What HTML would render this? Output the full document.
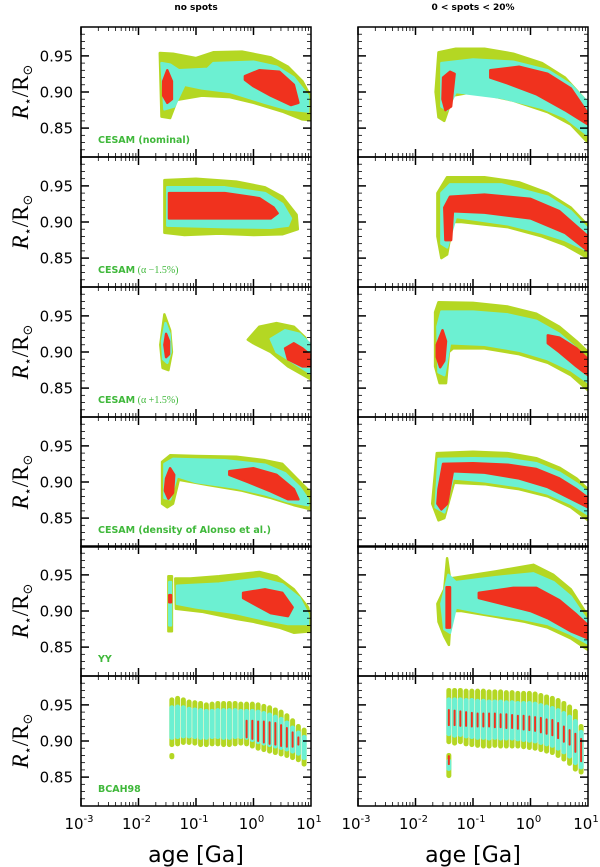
<!DOCTYPE html>
<html><head><meta charset="utf-8"><style>
html,body{margin:0;padding:0;background:#fff}
svg{display:block}
</style></head><body>
<svg id="fig" width="600" height="867" viewBox="0 0 600 867" xmlns="http://www.w3.org/2000/svg" style="font-family:'DejaVu Sans','Liberation Sans',sans-serif">
<text x="196" y="10" font-size="9" font-weight="bold" text-anchor="middle">no spots</text>
<text x="473" y="10" font-size="9" font-weight="bold" text-anchor="middle">0 &lt; spots &lt; 20%</text>
<g id="marks"></g>
<g id="axes"></g>
</svg>
<script>
// ---- data ----
const rowLabels = ["CESAM (nominal)","CESAM","CESAM","CESAM (density of Alonso et al.)","YY","BCAH98"];
const rowLabelNotes = ["","(α −1.5%)","(α +1.5%)","","",""];
const xTickLabels = ["-3","-2","-1","0","1"];
const yTickValues = [0.85,0.90,0.95];
const yTickLabels = ["0.85","0.90","0.95"];

const green1L=[[-1.63,0.954],[-1.4,0.953],[-1.0,0.947],[-0.7,0.955],[-0.2,0.956],[0.3,0.948],[0.6,0.935],[0.85,0.915],[1.0,0.893],[1.0,0.861],[0.85,0.862],[0.5,0.873],[0.0,0.885],[-0.41,0.893],[-0.9,0.895],[-1.33,0.889],[-1.45,0.864],[-1.6,0.866]];
const cyan1L=[[-1.6,0.94],[-1.45,0.938],[-1.3,0.93],[-0.8,0.932],[-0.7,0.94],[0.0,0.942],[0.4,0.935],[0.7,0.92],[0.95,0.895],[0.95,0.873],[0.6,0.876],[0.2,0.885],[-0.4,0.9],[-0.9,0.905],[-1.2,0.91],[-1.38,0.88],[-1.55,0.876]];
const redA1L=[[-1.57,0.915],[-1.5,0.93],[-1.42,0.915],[-1.42,0.89],[-1.5,0.885],[-1.57,0.895]];
const redB1L=[[-0.15,0.922],[0.1,0.93],[0.45,0.928],[0.7,0.91],[0.78,0.885],[0.65,0.882],[0.3,0.895],[0.0,0.908],[-0.15,0.917]];
const green1R=[[-1.65,0.9],[-1.6,0.955],[-1.3,0.96],[-0.8,0.96],[-0.3,0.953],[0.2,0.94],[0.6,0.92],[1.0,0.885],[1.0,0.83],[0.7,0.855],[0.3,0.872],[-0.3,0.888],[-1.0,0.9],[-1.35,0.895],[-1.5,0.86],[-1.6,0.865]];
const cyan1R=[[-1.55,0.94],[-1.0,0.945],[-0.3,0.942],[0.3,0.93],[0.7,0.91],[1.0,0.885],[1.0,0.84],[0.6,0.865],[0.2,0.878],[-0.5,0.892],[-1.3,0.9],[-1.45,0.875],[-1.55,0.88]];
const redA1R=[[-1.52,0.92],[-1.4,0.928],[-1.32,0.925],[-1.38,0.88],[-1.48,0.875],[-1.53,0.89]];
const redB1R=[[-0.7,0.93],[-0.2,0.935],[0.3,0.925],[0.7,0.905],[1.0,0.87],[1.0,0.855],[0.6,0.875],[0.1,0.897],[-0.4,0.912],[-0.7,0.92]];
const green2L=[[-1.55,0.958],[-1.0,0.96],[-0.3,0.956],[0.2,0.948],[0.5,0.935],[0.75,0.91],[0.77,0.89],[0.5,0.883],[0.0,0.882],[-0.6,0.884],[-1.2,0.882],[-1.55,0.885]];
const cyan2L=[[-1.5,0.948],[-0.5,0.948],[0.2,0.94],[0.5,0.925],[0.65,0.905],[0.6,0.895],[0.3,0.892],[-0.5,0.893],[-1.5,0.895]];
const red2L=[[-1.47,0.94],[-0.5,0.94],[0.1,0.933],[0.35,0.92],[0.42,0.912],[0.3,0.905],[-0.5,0.905],[-1.47,0.905]];
const green2R=[[-1.62,0.94],[-1.45,0.962],[-0.8,0.962],[-0.2,0.955],[0.3,0.94],[0.7,0.92],[1.0,0.895],[1.0,0.85],[0.6,0.868],[0.2,0.88],[-0.4,0.893],[-1.2,0.9],[-1.35,0.9],[-1.45,0.855],[-1.55,0.85],[-1.62,0.88]];
const cyan2R=[[-1.55,0.94],[-1.4,0.952],[-0.5,0.952],[0.3,0.935],[0.7,0.915],[1.0,0.89],[1.0,0.86],[0.6,0.875],[0.2,0.885],[-0.4,0.897],[-1.3,0.907],[-1.45,0.865],[-1.55,0.87]];
const red2R=[[-1.5,0.92],[-1.4,0.935],[-0.8,0.938],[0,0.932],[0.5,0.915],[1.0,0.88],[1.0,0.86],[0.6,0.885],[0.0,0.905],[-0.8,0.913],[-1.35,0.915],[-1.38,0.875],[-1.48,0.875]];
const greenA3L=[[-1.55,0.952],[-1.45,0.93],[-1.42,0.9],[-1.48,0.875],[-1.58,0.878],[-1.62,0.91]];
const cyanA3L=[[-1.53,0.94],[-1.46,0.925],[-1.44,0.9],[-1.5,0.885],[-1.57,0.89],[-1.59,0.915]];
const redA3L=[[-1.52,0.925],[-1.47,0.915],[-1.47,0.897],[-1.52,0.893],[-1.55,0.91]];
const greenB3L=[[-0.1,0.917],[0.1,0.935],[0.4,0.94],[0.7,0.935],[0.9,0.92],[1.0,0.9],[1.0,0.862],[0.6,0.88],[0.3,0.9],[0,0.912]];
const cyanB3L=[[0.3,0.918],[0.55,0.93],[0.8,0.925],[1.0,0.91],[1.0,0.87],[0.7,0.885],[0.4,0.9]];
const redB3L=[[0.55,0.905],[0.7,0.912],[0.85,0.905],[1.0,0.895],[1.0,0.88],[0.85,0.88],[0.6,0.89]];
const green3R=[[-1.66,0.955],[-1.6,0.969],[-1.0,0.968],[-0.4,0.963],[0.1,0.953],[0.5,0.935],[0.8,0.915],[1.0,0.9],[1.0,0.847],[0.7,0.868],[0.3,0.885],[-0.2,0.897],[-0.8,0.905],[-1.35,0.905],[-1.42,0.9],[-1.47,0.857],[-1.58,0.857],[-1.66,0.88]];
const cyan3R=[[-1.62,0.935],[-1.55,0.956],[-1.0,0.956],[-0.4,0.952],[0.1,0.943],[0.5,0.925],[0.8,0.905],[1.0,0.89],[1.0,0.858],[0.7,0.875],[0.3,0.89],[-0.2,0.902],[-0.8,0.91],[-1.4,0.912],[-1.5,0.868],[-1.6,0.872]];
const redA3R=[[-1.63,0.91],[-1.53,0.93],[-1.47,0.915],[-1.5,0.888],[-1.57,0.879],[-1.63,0.893]];
const redB3R=[[0.3,0.923],[0.5,0.92],[0.8,0.905],[1.0,0.89],[1.0,0.868],[0.8,0.88],[0.5,0.9],[0.3,0.912]];
const green4L=[[-1.59,0.928],[-1.45,0.937],[-1.0,0.936],[-0.3,0.935],[0.2,0.93],[0.5,0.925],[0.75,0.905],[1.0,0.885],[1.0,0.862],[0.7,0.868],[0.3,0.878],[-0.2,0.888],[-0.8,0.896],[-1.3,0.903],[-1.4,0.87],[-1.5,0.865],[-1.59,0.87]];
const cyan4L=[[-1.55,0.925],[-1.4,0.932],[-0.5,0.93],[0.2,0.924],[0.55,0.912],[0.8,0.893],[0.95,0.876],[0.95,0.868],[0.6,0.873],[0.2,0.883],[-0.3,0.892],[-1.0,0.9],[-1.33,0.908],[-1.45,0.876],[-1.55,0.878]];
const redA4L=[[-1.52,0.905],[-1.45,0.919],[-1.38,0.91],[-1.4,0.885],[-1.48,0.877],[-1.54,0.888]];
const redB4L=[[-0.42,0.915],[0.0,0.919],[0.4,0.91],[0.7,0.89],[0.78,0.876],[0.6,0.876],[0.3,0.887],[-0.1,0.9],[-0.42,0.91]];
const green4R=[[-1.63,0.94],[-1.0,0.942],[-0.4,0.94],[0.1,0.933],[0.5,0.92],[0.8,0.905],[1.0,0.89],[1.0,0.847],[0.7,0.865],[0.3,0.88],[-0.2,0.89],[-0.8,0.897],[-1.33,0.899],[-1.5,0.85],[-1.6,0.847],[-1.71,0.87]];
const cyan4R=[[-1.6,0.932],[-1.0,0.933],[-0.4,0.932],[0.1,0.926],[0.5,0.913],[0.8,0.898],[1.0,0.885],[1.0,0.855],[0.7,0.87],[0.3,0.884],[-0.2,0.894],[-0.8,0.901],[-1.35,0.905],[-1.5,0.858],[-1.65,0.865]];
const red4R=[[-1.6,0.89],[-1.52,0.925],[-1.0,0.926],[-0.4,0.924],[0.1,0.918],[0.5,0.905],[0.8,0.89],[1.0,0.878],[1.0,0.865],[0.7,0.877],[0.3,0.893],[-0.2,0.905],[-0.8,0.913],[-1.35,0.915],[-1.45,0.87],[-1.55,0.862],[-1.62,0.87]];
const greenA5L=[[-1.48,0.948],[-1.42,0.948],[-1.42,0.872],[-1.48,0.872]];
const cyanA5L=[[-1.465,0.94],[-1.435,0.94],[-1.435,0.88],[-1.465,0.88]];
const redA5L=[[-1.465,0.922],[-1.435,0.922],[-1.435,0.912],[-1.465,0.912]];
const green5L=[[-1.36,0.945],[-1.1,0.945],[-0.6,0.948],[0.1,0.954],[0.4,0.948],[0.7,0.93],[0.95,0.905],[1.0,0.885],[1.0,0.872],[0.7,0.87],[0.45,0.877],[0.0,0.885],[-0.3,0.889],[-0.9,0.899],[-1.35,0.903]];
const cyan5L=[[-1.33,0.935],[-0.6,0.938],[0.1,0.945],[0.5,0.937],[0.8,0.918],[0.95,0.895],[0.95,0.882],[0.6,0.882],[0.2,0.888],[-0.3,0.897],[-1.0,0.905],[-1.33,0.91]];
const red5L=[[-0.18,0.925],[0.2,0.93],[0.5,0.925],[0.68,0.905],[0.6,0.893],[0.3,0.897],[0.0,0.91],[-0.18,0.918]];
const green5R=[[-1.62,0.91],[-1.5,0.93],[-1.45,0.973],[-1.4,0.945],[-0.6,0.955],[0.05,0.964],[0.4,0.95],[0.7,0.93],[1.0,0.893],[1.0,0.846],[0.7,0.862],[0.3,0.877],[-0.1,0.885],[-0.6,0.892],[-1.2,0.9],[-1.38,0.9],[-1.42,0.853],[-1.5,0.865],[-1.6,0.885]];
const cyan5R=[[-1.55,0.91],[-1.43,0.95],[-1.3,0.94],[-0.6,0.947],[0.05,0.952],[0.4,0.94],[0.7,0.92],[1.0,0.885],[1.0,0.855],[0.7,0.868],[0.3,0.882],[-0.2,0.89],[-0.8,0.897],[-1.3,0.905],[-1.4,0.87],[-1.5,0.875]];
const redA5R=[[-1.46,0.933],[-1.4,0.933],[-1.4,0.877],[-1.46,0.877]];
const redB5R=[[-0.9,0.925],[-0.3,0.932],[0.1,0.932],[0.5,0.915],[0.8,0.895],[1.0,0.88],[1.0,0.862],[0.7,0.872],[0.3,0.89],[0.0,0.9],[-0.5,0.91],[-0.9,0.918]];

const regions=[
 [0,0,"g",green1L],[0,0,"c",cyan1L],[0,0,"r",redA1L],[0,0,"r",redB1L],
 [0,1,"g",green1R],[0,1,"c",cyan1R],[0,1,"r",redA1R],[0,1,"r",redB1R],
 [1,0,"g",green2L],[1,0,"c",cyan2L],[1,0,"r",red2L],
 [1,1,"g",green2R],[1,1,"c",cyan2R],[1,1,"r",red2R],
 [2,0,"g",greenA3L],[2,0,"c",cyanA3L],[2,0,"r",redA3L],[2,0,"g",greenB3L],[2,0,"c",cyanB3L],[2,0,"r",redB3L],
 [2,1,"g",green3R],[2,1,"c",cyan3R],[2,1,"r",redA3R],[2,1,"r",redB3R],
 [3,0,"g",green4L],[3,0,"c",cyan4L],[3,0,"r",redA4L],[3,0,"r",redB4L],
 [3,1,"g",green4R],[3,1,"c",cyan4R],[3,1,"r",red4R],
 [4,0,"g",greenA5L],[4,0,"c",cyanA5L],[4,0,"r",redA5L],[4,0,"g",green5L],[4,0,"c",cyan5L],[4,0,"r",red5L],
 [4,1,"g",green5R],[4,1,"c",cyan5R],[4,1,"r",redA5R],[4,1,"r",redB5R]
];

const barAges=[-1.42,-1.32,-1.22,-1.12,-1.02,-0.92,-0.82,-0.72,-0.62,-0.52,-0.42,-0.32,-0.22,-0.12,-0.02,0.08,0.18,0.28,0.38,0.48,0.58,0.68,0.78,0.88];
const barGTopL=[.957,.959,.957,.954,.953,.952,.950,.951,.952,.952,.952,.952,.951,.951,.951,.950,.948,.946,.943,.940,.935,.928,.920,.915];
const barGBotL=[.895,.896,.898,.898,.897,.895,.895,.896,.896,.895,.895,.896,.897,.896,.893,.890,.888,.886,.884,.882,.880,.877,.874,.868];
const barCTopL=[.946,.947,.946,.944,.943,.942,.941,.941,.942,.942,.942,.942,.941,.941,.941,.940,.938,.936,.933,.930,.925,.918,.911,.905];
const barCBotL=[.905,.906,.907,.907,.906,.905,.905,.906,.906,.905,.905,.906,.906,.905,.902,.899,.897,.895,.893,.891,.889,.886,.883,.877];
const barRTopL=[null,null,null,null,null,null,null,null,null,null,null,null,null,.928,.928,.927,.927,.926,.925,.922,.918,.912,.905,null];
const barRBotL=[null,null,null,null,null,null,null,null,null,null,null,null,null,.905,.903,.900,.898,.896,.895,.893,.892,.892,.895,null];
const barGTopR=[.970,.970,.970,.969,.969,.969,.969,.968,.968,.968,.967,.967,.966,.966,.966,.965,.963,.961,.959,.956,.952,.947,.941,.920];
const barGBotR=[.899,.897,.899,.896,.895,.894,.893,.893,.894,.893,.893,.893,.893,.892,.891,.890,.888,.886,.884,.880,.875,.869,.861,.857];
const barCTopR=[.957,.957,.957,.956,.956,.955,.955,.954,.954,.954,.953,.953,.952,.952,.952,.951,.949,.947,.945,.942,.938,.933,.927,.912];
const barCBotR=[.910,.908,.909,.907,.906,.905,.905,.904,.905,.904,.904,.904,.903,.902,.901,.900,.898,.896,.894,.890,.885,.879,.870,.864];
const barRTopR=[.943,.942,.941,.940,.939,.938,.938,.938,.938,.937,.937,.936,.935,.935,.934,.933,.932,.930,.929,.925,.920,.915,.910,.903];
const barRBotR=[.922,.922,.921,.921,.920,.920,.920,.920,.919,.919,.918,.918,.917,.916,.915,.914,.912,.910,.908,.904,.899,.895,.885,.872];
const extraDots=[[0,-1.42,0.880,0.878,"g"],[1,-1.42,0.880,0.852,"g"],[1,-1.42,0.872,0.862,"c"],[1,-1.42,0.879,0.868,"r"]];

// ---- scales ----
const colX0=[81,358], W=230, rowY0=[27,157,287,417,546,676], H=130;
const XMIN=-3, XMAX=1, YMIN=0.81, YMAX=0.99;
const colors={g:"#b4d723",c:"#6cf0d2",r:"#f0321e"};
function xs(col,la){return colX0[col]+(la-XMIN)/(XMAX-XMIN)*W;}
function ys(row,r){return rowY0[row]+(YMAX-r)/(YMAX-YMIN)*H;}
const NS="http://www.w3.org/2000/svg";
const marks=document.getElementById('marks'), axes=document.getElementById('axes');
function mk(tag,attrs,parent){const e=document.createElementNS(NS,tag);for(const k in attrs)e.setAttribute(k,attrs[k]);parent.appendChild(e);return e;}

const defs=mk('defs',{},document.getElementById('fig'));
for(let row=0;row<6;row++)for(let col=0;col<2;col++){
  const cp=mk('clipPath',{id:'cp'+row+col},defs);
  mk('rect',{x:colX0[col],y:rowY0[row],width:W,height:H},cp);
}
regions.forEach(([row,col,k,pts])=>{
  const d=pts.map(p=>xs(col,p[0]).toFixed(1)+','+ys(row,p[1]).toFixed(1)).join(' ');
  const p=mk('polygon',{points:d,fill:colors[k],stroke:colors[k],'stroke-width':2.5,'stroke-linejoin':'round','clip-path':'url(#cp'+row+col+')'},marks);
  
  
});
function bar(col,la,top,bot,k,w){
  const x=xs(col,la);
  const l=mk('line',{x1:x,x2:x,y1:ys(5,top),y2:ys(5,bot),stroke:colors[k],'stroke-width':w,'stroke-linecap':'round'},marks);
  
  
}
const sets=[[barGTopL,barGBotL,barCTopL,barCBotL,barRTopL,barRBotL],[barGTopR,barGBotR,barCTopR,barCBotR,barRTopR,barRBotR]];
for(let col=0;col<2;col++){
  const s=sets[col];
  barAges.forEach((a,i)=>{
    bar(col,a,s[0][i],s[1][i],'g',5);
    bar(col,a,s[2][i],s[3][i],'c',5);
    if(s[4][i]!==null) bar(col,a,s[4][i],s[5][i],'r',2);
  });
}
extraDots.forEach(d=>bar(d[0],d[1],d[2],d[3],d[4],d[4]==='r'?2:5));

// ---- axes ----
for(let row=0;row<6;row++){
  for(let col=0;col<2;col++){
    const x0=colX0[col], y0=rowY0[row];
    const g=mk('g',{},axes);
    
    
    mk('rect',{x:x0,y:y0,width:W,height:H,fill:'none',stroke:'#000','stroke-width':1.5},g);
    for(let dec=XMIN;dec<XMAX;dec++){
      for(let m=1;m<10;m++){
        const la=dec+Math.log10(m), x=xs(col,la), len=m===1?8:4;
        mk('line',{x1:x,x2:x,y1:y0,y2:y0+len,stroke:'#000','stroke-width':m===1?1.5:0.8},g);
        mk('line',{x1:x,x2:x,y1:y0+H,y2:y0+H-len,stroke:'#000','stroke-width':m===1?1.5:0.8},g);
      }
    }
    for(let v=82;v<=98;v++){
      const y=ys(row,v/100), maj=(v%5===0), len=maj?8:4;
      mk('line',{x1:x0,x2:x0+len,y1:y,y2:y,stroke:'#000','stroke-width':maj?1.5:0.8},g);
      mk('line',{x1:x0+W,x2:x0+W-len,y1:y,y2:y,stroke:'#000','stroke-width':maj?1.5:0.8},g);
    }
    if(col===0){
      yTickValues.forEach((v,i)=>{
        const t=mk('text',{x:73,y:ys(row,v)+5.5,'font-size':15,'text-anchor':'end'},g);
        t.textContent=yTickLabels[i];
        
        
      });
      const lt=mk('text',{x:98,y:y0+116,'font-size':9.5,'font-weight':'bold',fill:'#3fb83a'},g);
      lt.textContent=rowLabels[row];
      
      
      if(rowLabelNotes[row]){
        const ts=mk('tspan',{style:"font-family:'Liberation Serif',serif;font-weight:normal;font-size:10px"},lt);
        ts.textContent=' '+rowLabelNotes[row];
      }
      const cy=y0+H/2;
      const yt=mk('text',{x:0,y:0,transform:'translate(28,'+cy+') rotate(-90)','text-anchor':'middle',style:"font-family:'Liberation Serif',serif;font-size:23px"},g);
      
      
      const a=mk('tspan',{style:'font-style:italic'},yt); a.textContent='R';
      const b=mk('tspan',{dy:4,style:"font-size:13px;font-family:'DejaVu Sans',sans-serif"},yt); b.textContent='⋆';
      const c=mk('tspan',{dy:-4},yt); c.textContent='/R';
      const d=mk('tspan',{dy:4,style:"font-size:13px;font-family:'DejaVu Sans',sans-serif"},yt); d.textContent='⊙';
    }
  }
}
for(let col=0;col<2;col++){
  xTickLabels.forEach((lab,i)=>{
    const x=xs(col,XMIN+i);
    const t=mk('text',{x:x-2,y:829,'font-size':15,'text-anchor':'middle'},axes);
    
    
    const b=mk('tspan',{},t); b.textContent='10';
    const e=mk('tspan',{'font-size':10,dy:-7},t); e.textContent=lab;
  });
  const at=mk('text',{x:colX0[col]+W/2,y:862,'font-size':22,'text-anchor':'middle'},axes);
  at.textContent='age [Ga]';
  
  
}
</script>
</body></html>
